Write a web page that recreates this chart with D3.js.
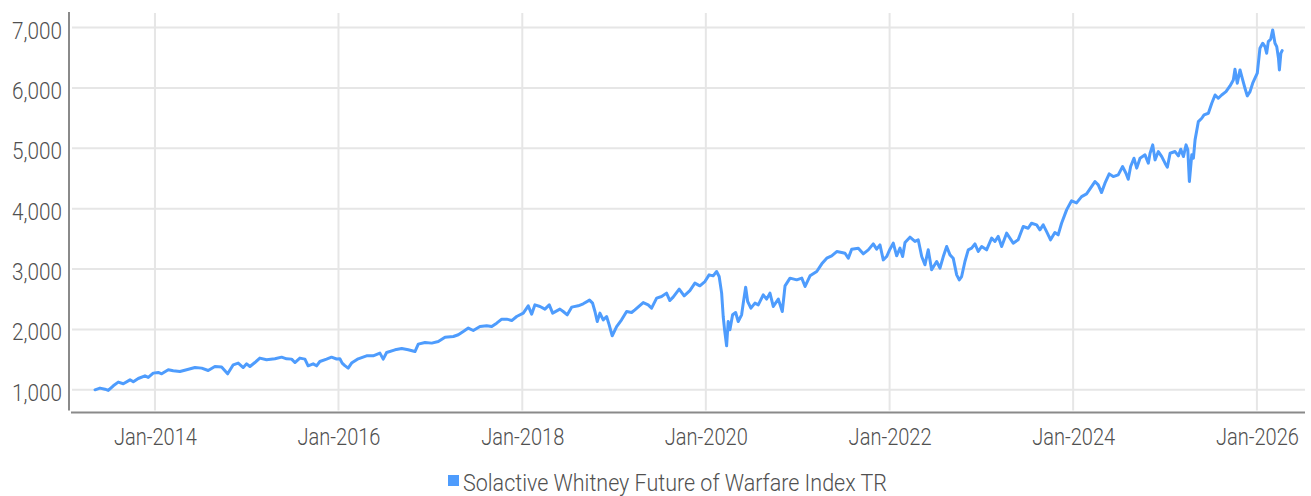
<!DOCTYPE html>
<html>
<head>
<meta charset="utf-8">
<script src="https://cdn.jsdelivr.net/npm/d3@7"></script>
<style>
  html, body { margin: 0; padding: 0; background: #fff; }
  svg text { font-family: Roboto, "Liberation Sans", sans-serif; font-weight: 300; fill: #505050; }
</style>
</head>
<body>
<svg id="chart" width="1311" height="496"></svg>
<script>
// ---- data (decimal year, index level) ----
const seriesName = "Solactive Whitney Future of Warfare Index TR";
const yearsFrac = [
2013.347,2013.401,2013.455,2013.491,2013.546,2013.600,2013.655,2013.728,2013.764,2013.818,
2013.891,2013.927,2013.981,2014.036,2014.073,2014.145,2014.199,2014.272,2014.345,2014.436,
2014.509,2014.580,2014.653,2014.726,2014.792,2014.853,2014.907,2014.962,2014.999,2015.035,
2015.089,2015.143,2015.216,2015.307,2015.380,2015.434,2015.489,2015.525,2015.579,2015.634,
2015.669,2015.724,2015.761,2015.797,2015.870,2015.924,2015.979,2016.015,2016.040,2016.069,
2016.105,2016.142,2016.214,2016.305,2016.377,2016.450,2016.486,2016.523,2016.614,2016.687,
2016.758,2016.831,2016.867,2016.940,2017.013,2017.085,2017.158,2017.249,2017.303,2017.357,
2017.412,2017.466,2017.539,2017.612,2017.667,2017.721,2017.776,2017.830,2017.885,2017.939,
2018.011,2018.065,2018.102,2018.138,2018.193,2018.247,2018.294,2018.331,2018.410,2018.446,
2018.490,2018.538,2018.610,2018.664,2018.733,2018.766,2018.792,2018.817,2018.846,2018.882,
2018.919,2018.947,2018.980,2019.028,2019.082,2019.137,2019.191,2019.227,2019.318,2019.372,
2019.409,2019.464,2019.518,2019.572,2019.608,2019.644,2019.710,2019.764,2019.826,2019.881,
2019.935,2019.990,2020.036,2020.080,2020.117,2020.145,2020.172,2020.189,2020.204,2020.226,
2020.243,2020.262,2020.291,2020.324,2020.352,2020.389,2020.407,2020.433,2020.455,2020.490,
2020.534,2020.570,2020.624,2020.661,2020.697,2020.733,2020.788,2020.831,2020.861,2020.915,
2020.988,2021.043,2021.079,2021.133,2021.206,2021.261,2021.315,2021.369,2021.424,2021.478,
2021.514,2021.550,2021.587,2021.659,2021.713,2021.768,2021.822,2021.859,2021.895,2021.931,
2021.968,2022.004,2022.040,2022.077,2022.113,2022.142,2022.168,2022.222,2022.276,2022.312,
2022.350,2022.385,2022.421,2022.458,2022.513,2022.549,2022.585,2022.622,2022.658,2022.693,
2022.731,2022.759,2022.785,2022.821,2022.857,2022.894,2022.930,2022.966,2023.003,2023.057,
2023.112,2023.148,2023.184,2023.221,2023.275,2023.311,2023.347,2023.401,2023.456,2023.510,
2023.547,2023.602,2023.638,2023.674,2023.711,2023.754,2023.801,2023.837,2023.874,2023.929,
2023.983,2024.037,2024.092,2024.146,2024.200,2024.237,2024.273,2024.309,2024.346,2024.392,
2024.436,2024.490,2024.538,2024.574,2024.599,2024.625,2024.661,2024.691,2024.727,2024.781,
2024.817,2024.836,2024.865,2024.890,2024.926,2024.963,2024.999,2025.024,2025.054,2025.108,
2025.144,2025.170,2025.199,2025.228,2025.247,2025.264,2025.290,2025.308,2025.326,2025.362,
2025.399,2025.424,2025.471,2025.508,2025.544,2025.579,2025.616,2025.663,2025.707,2025.743,
2025.761,2025.786,2025.816,2025.845,2025.870,2025.895,2025.925,2025.954,2025.979,2026.004,
2026.033,2026.063,2026.088,2026.106,2026.124,2026.150,2026.172,2026.197,2026.216,2026.235,
2026.245,2026.261,2026.275
];
const indexValues = [
1000,1028,1010,990,1066,1127,1100,1165,1132,1187,
1232,1205,1276,1287,1265,1331,1315,1303,1331,1369,
1359,1320,1386,1376,1265,1414,1442,1369,1430,1386,
1452,1525,1497,1513,1541,1513,1508,1452,1525,1508,
1397,1430,1397,1469,1508,1541,1510,1513,1442,1400,
1359,1442,1513,1563,1563,1607,1508,1618,1662,1684,
1662,1634,1757,1783,1773,1800,1872,1883,1911,1965,
2022,1982,2048,2060,2048,2104,2170,2170,2147,2214,
2270,2391,2253,2407,2380,2336,2407,2270,2336,2297,
2242,2369,2391,2424,2485,2435,2297,2131,2270,2159,
2214,2076,1894,2048,2159,2297,2280,2325,2445,2407,
2353,2518,2545,2601,2478,2535,2667,2556,2644,2766,
2722,2793,2904,2887,2959,2876,2601,2214,1993,1728,
2131,1993,2242,2280,2131,2242,2435,2700,2462,2353,
2435,2407,2573,2502,2601,2380,2502,2297,2722,2849,
2821,2849,2711,2887,2959,3086,3180,3219,3290,3273,
3262,3180,3329,3346,3252,3318,3417,3329,3401,3152,
3207,3329,3429,3219,3346,3207,3439,3528,3457,3484,
3207,3070,3318,2987,3125,3014,3207,3373,3235,3180,
2904,2821,2876,3125,3318,3346,3417,3290,3373,3318,
3512,3457,3540,3373,3594,3512,3429,3484,3704,3675,
3759,3732,3649,3732,3620,3484,3605,3567,3759,3980,
4130,4095,4200,4245,4366,4449,4394,4267,4421,4576,
4531,4560,4697,4587,4487,4697,4836,4671,4836,4891,
4753,4918,5056,4808,4946,4863,4753,4687,4918,4946,
4874,4985,4863,5056,4974,4449,4891,4836,5139,5442,
5497,5552,5580,5746,5883,5829,5883,5938,6033,6132,
6309,6077,6298,6132,5994,5867,5938,6077,6160,6243,
6657,6740,6684,6574,6767,6806,6960,6740,6684,6490,
6298,6574,6618
];
const yTicks = [1000, 2000, 3000, 4000, 5000, 6000, 7000];
const xTickYears = [2014, 2016, 2018, 2020, 2022, 2024, 2026];
const xDomainYears = [2013.085, 2026.524];
const yDomain = [624, 7257];

(function () {
function fracToDate(f) {
  const yr = Math.floor(f);
  const start = Date.UTC(yr, 0, 1), end = Date.UTC(yr + 1, 0, 1);
  return new Date(start + (f - yr) * (end - start));
}
const data = yearsFrac.map((f, i) => ({ date: fracToDate(f), value: indexValues[i] }));

const svg = d3.select("#chart");
const pL = 71, pR = 1305, pT = 12, pB = 412.5;

const x = d3.scaleUtc().domain(xDomainYears.map(fracToDate)).range([pL, pR]);
const y = d3.scaleLinear().domain(yDomain).range([pB, pT]);

// gridlines
const grid = svg.append("g");
grid.selectAll("line.h").data(yTicks).join("line")
  .attr("x1", pL + 1).attr("x2", pR)
  .attr("y1", d => y(d)).attr("y2", d => y(d))
  .attr("stroke", "#e6e6e6").attr("stroke-width", 2);
const xTickDates = xTickYears.map(yr => new Date(Date.UTC(yr, 0, 1)));
grid.selectAll("line.v").data(xTickDates).join("line")
  .attr("x1", d => x(d)).attr("x2", d => x(d))
  .attr("y1", pT + 1).attr("y2", pB - 2)
  .attr("stroke", "#e6e6e6").attr("stroke-width", 2);

// axes
const fontFam = "Roboto, sans-serif";
const yAxis = svg.append("g").attr("transform", `translate(${pL - 2},0)`)
  .call(d3.axisLeft(y).tickValues(yTicks).tickSize(0).tickFormat(d3.format(",")));
yAxis.select(".domain").attr("stroke", "#8a8a8a").attr("stroke-width", 2)
  .attr("d", `M0,${pT}V${pB - 2}`);
yAxis.selectAll(".tick text")
  .attr("x", -7).attr("dy", null).attr("y", 10.5)
  .style("font-size", "23px").style("font-weight", 300).style("fill", "#505050").style("font-family", fontFam);

const xAxis = svg.append("g").attr("transform", `translate(0,${pB})`)
  .call(d3.axisBottom(x).tickValues(xTickDates).tickSize(0).tickFormat(d3.utcFormat("%b-%Y")));
xAxis.select(".domain").attr("stroke", "#8a8a8a").attr("stroke-width", 2)
  .attr("d", `M${pL},0H${pR}`);
xAxis.selectAll(".tick text")
  .attr("dy", null).attr("y", 32.5)
  .style("font-size", "23px").style("font-weight", 300).style("fill", "#505050").style("font-family", fontFam);

// line
const line = d3.line().x(d => x(d.date)).y(d => y(d.value)).curve(d3.curveLinear);
svg.append("path").datum(data)
  .attr("fill", "none").attr("stroke", "#4e9cfd").attr("stroke-width", 3)
  .attr("stroke-linejoin", "round").attr("stroke-linecap", "round")
  .attr("d", line);

// legend
const lg = svg.append("g");
lg.append("rect").attr("x", 448).attr("y", 475).attr("width", 11).attr("height", 11).attr("fill", "#4e9cfd");
const lt = lg.append("text").attr("x", 463).attr("y", 490.5).text(seriesName)
  .style("font-size", "23px").style("font-weight", 300).style("fill", "#505050").style("font-family", fontFam);

function condense(sel, refWidth, refText) {
  let k = 1;
  sel.each(function () {
    if (this.textContent === refText) k = refWidth / this.getComputedTextLength();
  });
  sel.each(function () {
    const w = this.getComputedTextLength();
    d3.select(this).attr("textLength", w * k).attr("lengthAdjust", "spacingAndGlyphs");
  });
}
condense(yAxis.selectAll(".tick text"), 50, "7,000");
condense(xAxis.selectAll(".tick text"), 83, "Jan-2014");
condense(lt, 424, seriesName);
})();
</script>
</body>
</html>
